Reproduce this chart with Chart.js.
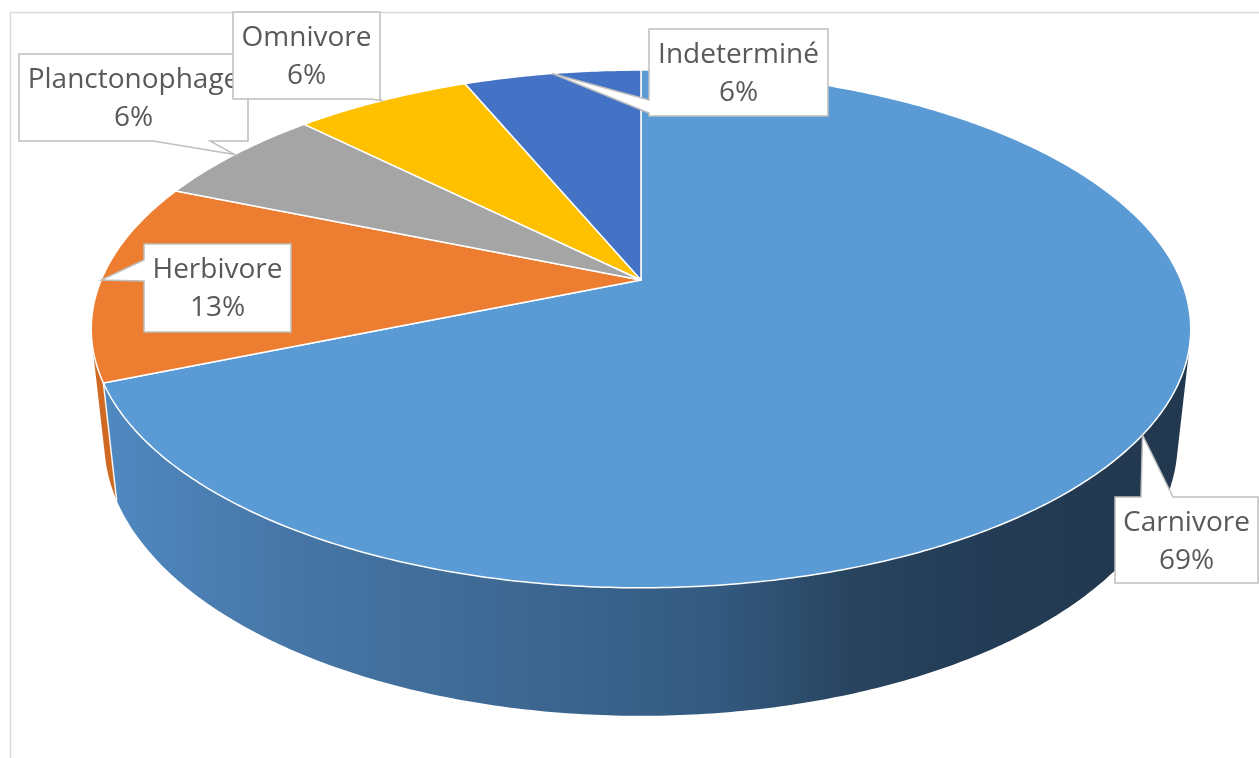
<!DOCTYPE html>
<html>
<head>
<meta charset="utf-8">
<script src="https://cdn.jsdelivr.net/npm/chart.js@4.4.1/dist/chart.umd.min.js"></script>
<style>
  html, body { margin: 0; padding: 0; background: #fff; overflow: hidden; }
  canvas { display: block; }
</style>
</head>
<body>
<canvas id="c" width="1259" height="758"></canvas>
<script>
// Régime alimentaire : nombre d'espèces par catégorie
const categories = ['Carnivore', 'Herbivore', 'Planctonophage', 'Omnivore', 'Indeterminé'];
const counts = [11, 2, 1, 1, 1];

// Office palette for the top faces and a darker shading ramp for the rims
const topColors = ['#5B9BD5', '#ED7D31', '#A5A5A5', '#FFC000', '#4472C4'];
const rimStops = [
  [[0, '#5089C2'], [0.18, '#4676A6'], [0.41, '#3C6690'], [0.57, '#33597F'], [0.69, '#28445F'], [0.82, '#233B54'], [1, '#22384F']],
  [[0, '#D06A22'], [1, '#7A3A10']],
  [[0, '#8A8A8A'], [1, '#4A4A4A']],
  [[0, '#D9A300'], [1, '#7A5C00']],
  [[0, '#3A62A8'], [1, '#1E3560']]
];

// Callout boxes: rectangle and where the pointer leaves it
const callouts = [
  { box: [1115, 497, 143, 86], side: 'top',    base: [1141, 1173] },
  { box: [144, 244, 147, 88],  side: 'left',   base: [260, 281] },
  { box: [19, 54, 229, 87],    side: 'bottom', base: [153, 210] },
  { box: [233, 12, 147, 87],   side: 'bottom', base: [371, 380] },
  { box: [649, 29, 179, 87],   side: 'left',   base: [100, 113] }
];

// Perspective camera looking down on the disc
const view = { cx: 641, cy: 280, f: 2532, R: 0.2132, h: 0.0508, sinP: 0.4624, cosP: 0.8867 };

function project(a, r, z) {
  const X = view.R * r * Math.cos(a);
  const Y = view.R * r * Math.sin(a);
  const depth = 1 - Y * view.cosP - z * view.sinP;
  return [view.cx + view.f * X / depth, view.cy + view.f * (Y * view.sinP - z * view.cosP) / depth];
}

function arcPoints(a0, a1, z) {
  const n = Math.max(2, Math.ceil(Math.abs(a1 - a0) / 0.01));
  const pts = [];
  for (let i = 0; i <= n; i++) pts.push(project(a0 + (a1 - a0) * i / n, 1, z));
  return pts;
}

const frame = {
  id: 'frame',
  beforeDraw(chart) {
    const ctx = chart.ctx;
    ctx.save();
    ctx.fillStyle = '#fff';
    ctx.fillRect(0, 0, chart.width, chart.height);
    ctx.strokeStyle = '#D9D9D9';
    ctx.lineWidth = 1.5;
    ctx.strokeRect(10.5, 12.5, chart.width + 20, chart.height + 20);
    ctx.restore();
  }
};

const pie3d = {
  id: 'pie3d',
  beforeDatasetDraw() { return false; },
  afterDatasetsDraw(chart) {
    const ctx = chart.ctx;
    const arcs = chart.getDatasetMeta(0).data;
    const visLo = Math.asin(view.R / view.cosP);
    const visHi = Math.PI - visLo;
    ctx.save();
    ctx.lineJoin = 'round';

    // outer rim, front half only
    arcs.forEach((arc, i) => {
      const lo = Math.max(arc.startAngle, visLo);
      const hi = Math.min(arc.endAngle, visHi);
      if (lo >= hi) return;
      const top = arcPoints(lo, hi, 0);
      const bot = arcPoints(hi, lo, -view.h);
      const g = ctx.createLinearGradient(95, 0, 1192, 0);
      rimStops[i].forEach(s => g.addColorStop(s[0], s[1]));
      ctx.beginPath();
      top.concat(bot).forEach((p, k) => k ? ctx.lineTo(p[0], p[1]) : ctx.moveTo(p[0], p[1]));
      ctx.closePath();
      ctx.fillStyle = g;
      ctx.fill();
    });

    // seams between rim pieces
    ctx.strokeStyle = 'rgba(255,255,255,0.9)';
    ctx.lineWidth = 1.5;
    arcs.forEach(arc => {
      const a = arc.endAngle;
      if (a > visLo && a < visHi) {
        const p = project(a, 1, 0), q = project(a, 1, -view.h);
        ctx.beginPath();
        ctx.moveTo(p[0], p[1]);
        ctx.lineTo(q[0], q[1]);
        ctx.stroke();
      }
    });

    // top faces
    arcs.forEach((arc, i) => {
      const pts = arcPoints(arc.startAngle, arc.endAngle, 0);
      const c = project(0, 0, 0);
      ctx.beginPath();
      ctx.moveTo(c[0], c[1]);
      pts.forEach(p => ctx.lineTo(p[0], p[1]));
      ctx.closePath();
      ctx.fillStyle = topColors[i];
      ctx.fill();
      ctx.strokeStyle = '#FFFFFF';
      ctx.lineWidth = 1.5;
      ctx.stroke();
    });
    ctx.restore();
  }
};

const labels3d = {
  id: 'labels3d',
  afterDraw(chart) {
    const ctx = chart.ctx;
    const arcs = chart.getDatasetMeta(0).data;
    const total = counts.reduce((s, v) => s + v, 0);
    ctx.save();
    arcs.forEach((arc, i) => {
      const c = callouts[i];
      const [x, y, w, h] = c.box;
      const tip = project((arc.startAngle + arc.endAngle) / 2, 1, 0);
      const [a, b] = c.base;
      ctx.beginPath();
      ctx.moveTo(x, y);
      if (c.side === 'top') { ctx.lineTo(a, y); ctx.lineTo(tip[0], tip[1]); ctx.lineTo(b, y); }
      ctx.lineTo(x + w, y);
      ctx.lineTo(x + w, y + h);
      if (c.side === 'bottom') { ctx.lineTo(b, y + h); ctx.lineTo(tip[0], tip[1]); ctx.lineTo(a, y + h); }
      ctx.lineTo(x, y + h);
      if (c.side === 'left') { ctx.lineTo(x, b); ctx.lineTo(tip[0], tip[1]); ctx.lineTo(x, a); }
      ctx.closePath();
      ctx.fillStyle = '#FFFFFF';
      ctx.fill();
      ctx.strokeStyle = '#BFBFBF';
      ctx.lineWidth = 1.5;
      ctx.stroke();

      ctx.fillStyle = '#595959';
      ctx.font = '28px "Open Sans", "Noto Sans", sans-serif';
      ctx.textAlign = 'center';
      ctx.textBaseline = 'middle';
      const pct = Math.round(counts[i] / total * 100) + '%';
      ctx.fillText(chart.data.labels[i], x + w / 2, y + 26);
      ctx.fillText(pct, x + w / 2, y + 64);
    });
    ctx.restore();
  }
};

new Chart(document.getElementById('c'), {
  type: 'pie',
  data: {
    labels: categories,
    datasets: [{ data: counts, backgroundColor: topColors, borderColor: '#FFFFFF', borderWidth: 1.5 }]
  },
  options: {
    responsive: false,
    animation: false,
    events: [],
    rotation: 0,
    circumference: 360,
    plugins: { legend: { display: false }, tooltip: { enabled: false } }
  },
  plugins: [frame, pie3d, labels3d]
});
</script>
</body>
</html>
